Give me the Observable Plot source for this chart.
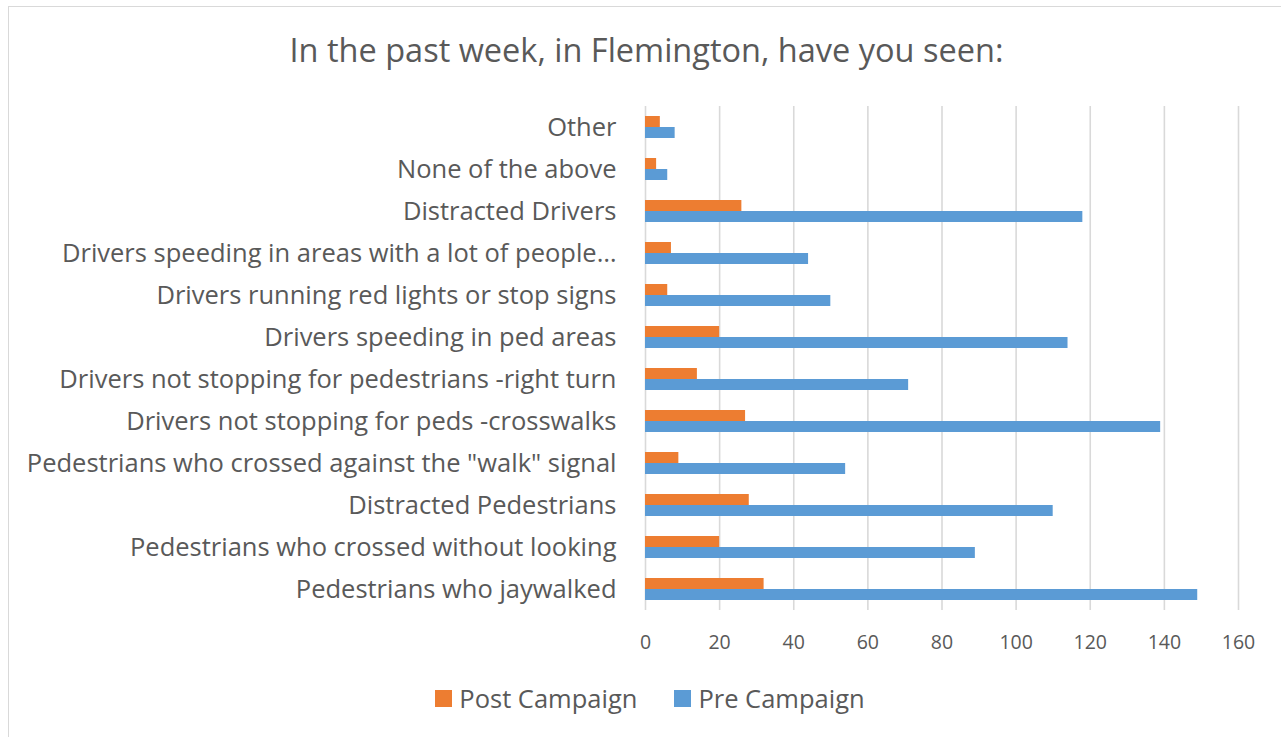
<!DOCTYPE html>
<html>
<head>
<meta charset="utf-8">
<script src="https://cdn.jsdelivr.net/npm/d3@7"></script>
<script src="https://cdn.jsdelivr.net/npm/@observablehq/plot@0.6"></script>
<style>
  html, body { margin: 0; padding: 0; background: #fff; overflow: hidden; }
  body { width: 1281px; height: 737px; position: relative; font-family: "Open Sans", sans-serif; color: #595959; }
  #frame { position: absolute; left: 8px; top: 6px; width: 1275px; height: 760px; border: 1px solid #d9d9d9; background: #fff; }
  #title { height: 38px; line-height: 38px; padding-top: 24px; padding-bottom: 31px; text-align: center; font-size: 32.5px; color: #595959; white-space: nowrap; }
  #legend { display: flex; justify-content: center; align-items: center; padding-top: 22px; height: 30px; font-size: 25.5px; color: #595959; padding-left: 7px; white-space: nowrap; }
  .item { display: flex; align-items: center; margin: 0 18.5px; }
  .sw { width: 17px; height: 17px; margin-right: 7px; }
  svg { display: block; overflow: visible; }
</style>
</head>
<body>
<div id="frame">
  <div id="title">In the past week, in Flemington, have you seen:</div>
  <div id="chart"></div>
  <div id="legend"></div>
</div>
<script>
const categories = [
  "Other",
  "None of the above",
  "Distracted Drivers",
  "Drivers speeding in areas with a lot of people…",
  "Drivers running red lights or stop signs",
  "Drivers speeding in ped areas",
  "Drivers not stopping for pedestrians -right turn",
  "Drivers not stopping for peds -crosswalks",
  "Pedestrians who crossed against the \"walk\" signal",
  "Distracted Pedestrians",
  "Pedestrians who crossed without looking",
  "Pedestrians who jaywalked"
];
const seriesNames = ["Post Campaign", "Pre Campaign"];
const postCampaign = [4, 3, 26, 7, 6, 20, 14, 27, 9, 28, 20, 32];
const preCampaign = [8, 6, 118, 44, 50, 114, 71, 139, 54, 110, 89, 149];
const xTicks = [0, 20, 40, 60, 80, 100, 120, 140, 160];
const colors = ["#ED7D31", "#5B9BD5"];

const data = [];
categories.forEach((c, i) => {
  data.push({category: c, series: seriesNames[0], value: postCampaign[i]});
  data.push({category: c, series: seriesNames[1], value: preCampaign[i]});
});

const chart = Plot.plot({
  width: 1275,
  height: 561,
  marginLeft: 636,
  marginRight: 46,
  marginTop: 5,
  marginBottom: 50,
  style: {fontFamily: "Open Sans, sans-serif", color: "#595959", background: "transparent", overflow: "visible"},
  x: {domain: [0, 160], ticks: xTicks, label: null},
  y: {domain: seriesNames, paddingInner: 0, paddingOuter: 0.9, axis: null},
  fy: {domain: categories, padding: 0, label: null},
  color: {domain: seriesNames, range: colors},
  marks: [
    Plot.gridX(xTicks, {stroke: "#d9d9d9", strokeOpacity: 1, strokeWidth: 1.6}),
    Plot.barX(data, {x: "value", y: "series", fy: "category", fill: "series", inset: 0}),
    Plot.axisX(xTicks, {tickSize: 0, tickPadding: 25, fontSize: 19.5, fill: "#595959", label: null}),
    Plot.axisFy({anchor: "left", tickSize: 0, tickPadding: 29, fontSize: 25.5, fill: "#595959", label: null})
  ]
});
document.getElementById("chart").appendChild(chart);

const legend = document.getElementById("legend");
seriesNames.forEach((s, i) => {
  const it = document.createElement("div");
  it.className = "item";
  const sw = document.createElement("div");
  sw.className = "sw";
  sw.style.background = colors[i];
  const t = document.createElement("span");
  t.textContent = s;
  it.appendChild(sw);
  it.appendChild(t);
  legend.appendChild(it);
});
</script>
</body>
</html>
